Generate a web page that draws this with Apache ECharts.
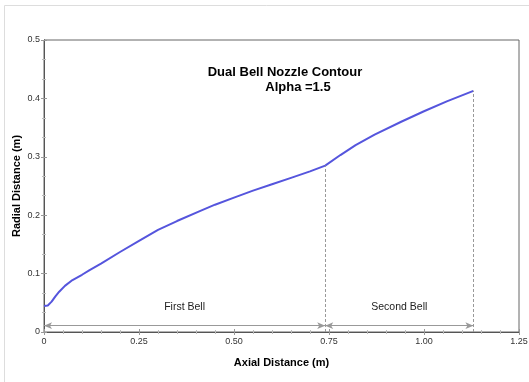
<!DOCTYPE html>
<html><head><meta charset="utf-8">
<script src="https://cdn.jsdelivr.net/npm/echarts@6/dist/echarts.min.js"></script>
<style>html,body{margin:0;padding:0;background:#fff}#c{width:529px;height:382px}</style>
</head><body><div id="c"></div>
<script>
var axialX = [0, 0.01, 0.02, 0.03, 0.04, 0.055, 0.075, 0.1, 0.12, 0.15, 0.2, 0.25, 0.3, 0.35, 0.41, 0.45, 0.5, 0.55, 0.6, 0.65, 0.7, 0.74, 0.78, 0.82, 0.87, 0.94, 1.0, 1.06, 1.13];
var radialY = [0.0445, 0.0455, 0.052, 0.061, 0.069, 0.079, 0.089, 0.098, 0.106, 0.117, 0.137, 0.156, 0.175, 0.190, 0.207, 0.218, 0.230, 0.242, 0.253, 0.264, 0.275, 0.285, 0.303, 0.320, 0.338, 0.360, 0.378, 0.395, 0.413];
var bellEnds = [0, 0.74, 1.13];
var bellLabels = ['First Bell', 'Second Bell'];
var xTickLabels = ['0', '0.25', '0.50', '0.75', '1.00', '1.25'];
var yTickLabels = ['0', '0.1', '0.2', '0.3', '0.4', '0.5'];
var titleLines = ['Dual Bell Nozzle Contour', 'Alpha =1.5'];

var curve = axialX.map(function (x, i) { return [x, radialY[i]]; });
function yAt(x) { var i = axialX.indexOf(x); return radialY[i]; }
var dimY = 0.0108;

var markData = [];
for (var i = 1; i < bellEnds.length; i++) {
  markData.push([{ coord: [bellEnds[i], 0], lineStyle: { type: [3, 2], color: '#999', width: 1 }, symbol: 'none' },
                 { coord: [bellEnds[i], yAt(bellEnds[i])], symbol: 'none' }]);
}
for (var j = 0; j < bellEnds.length - 1; j++) {
  markData.push([{ coord: [bellEnds[j], dimY], lineStyle: { type: 'solid', color: '#999', width: 1 } },
                 { coord: [bellEnds[j + 1], dimY] }]);
}

var chart = echarts.init(document.getElementById('c'));
var ax = { color: '#555', width: 1 };
var tick = { show: true, inside: true, length: 3, lineStyle: { color: '#999' } };
chart.setOption({
  animation: false,
  grid: { left: 44, right: 10, top: 40, bottom: 50, show: true, borderColor: '#666', borderWidth: 1, containLabel: false, outerBoundsMode: 'none' },
  xAxis: [{
    type: 'value', min: 0, max: 1.25, interval: 0.25,
    name: 'Axial Distance (m)', nameLocation: 'middle', nameGap: 25, nameMoveOverlap: false,
    nameTextStyle: { fontFamily: 'Liberation Sans', fontWeight: 'bold', fontSize: 11, color: '#000' },
    axisLine: { show: true, onZero: false, lineStyle: ax },
    axisTick: tick,
    minorTick: { show: true, splitNumber: 5, length: 2, lineStyle: { color: '#bbb' } },
    splitLine: { show: false },
    axisLabel: { fontFamily: 'Liberation Sans', fontSize: 9, color: '#333', margin: 5,
      formatter: function (v) { return xTickLabels[Math.round(v / 0.25)]; } }
  }, {
    type: 'value', min: 0, max: 1.25, interval: 0.25, position: 'top',
    axisLine: { show: true, lineStyle: ax },
    axisTick: tick,
    minorTick: { show: true, splitNumber: 5, length: 2, lineStyle: { color: '#bbb' } },
    splitLine: { show: false }, axisLabel: { show: false }
  }],
  yAxis: [{
    type: 'value', min: 0, max: 0.5, interval: 0.1,
    name: 'Radial Distance (m)', nameLocation: 'middle', nameGap: 22, nameRotate: 90, nameMoveOverlap: false,
    nameTextStyle: { fontFamily: 'Liberation Sans', fontWeight: 'bold', fontSize: 11, color: '#000' },
    axisLine: { show: true, onZero: false, lineStyle: ax },
    axisTick: tick,
    minorTick: { show: true, splitNumber: 3, length: 2, lineStyle: { color: '#bbb' } },
    splitLine: { show: false },
    axisLabel: { fontFamily: 'Liberation Sans', fontSize: 9, color: '#333', margin: 4,
      formatter: function (v) { return yTickLabels[Math.round(v / 0.1)]; } }
  }, {
    type: 'value', min: 0, max: 0.5, interval: 0.1, position: 'right',
    axisLine: { show: true, lineStyle: ax },
    axisTick: tick,
    minorTick: { show: true, splitNumber: 3, length: 2, lineStyle: { color: '#bbb' } },
    splitLine: { show: false }, axisLabel: { show: false }
  }],
  series: [{
    type: 'line', data: curve, showSymbol: false, symbol: 'none', smooth: false,
    lineStyle: { color: '#5555dd', width: 2 },
    markLine: {
      silent: true, symbol: ['arrow', 'arrow'], symbolSize: [5, 8],
      label: { show: false },
      data: markData
    }
  }],
  graphic: [
    { type: 'line', shape: { x1: 4.5, y1: 5.5, x2: 529, y2: 5.5 }, style: { stroke: '#ddd', lineWidth: 1 } },
    { type: 'line', shape: { x1: 4.5, y1: 5.5, x2: 4.5, y2: 382 }, style: { stroke: '#ddd', lineWidth: 1 } },
    { type: 'text', x: 285, y: 72, style: { text: titleLines[0], fontFamily: 'Liberation Sans', fontWeight: 'bold', fontSize: 13, fill: '#000', textAlign: 'center', textVerticalAlign: 'middle' } },
    { type: 'text', x: 298, y: 87, style: { text: titleLines[1], fontFamily: 'Liberation Sans', fontWeight: 'bold', fontSize: 13, fill: '#000', textAlign: 'center', textVerticalAlign: 'middle' } }
  ]
});
var labelGraphics = [];
for (var k = 0; k < bellLabels.length; k++) {
  var p = chart.convertToPixel({ xAxisIndex: 0, yAxisIndex: 0 }, [(bellEnds[k] + bellEnds[k + 1]) / 2, 0.042]);
  labelGraphics.push({ type: 'text', x: p[0], y: p[1], style: { text: bellLabels[k], fontFamily: 'Liberation Sans', fontSize: 10.5, fill: '#222', textAlign: 'center', textVerticalAlign: 'middle' } });
}
chart.setOption({ graphic: [].concat(chart.getOption().graphic[0].elements, labelGraphics) });
</script></body></html>
